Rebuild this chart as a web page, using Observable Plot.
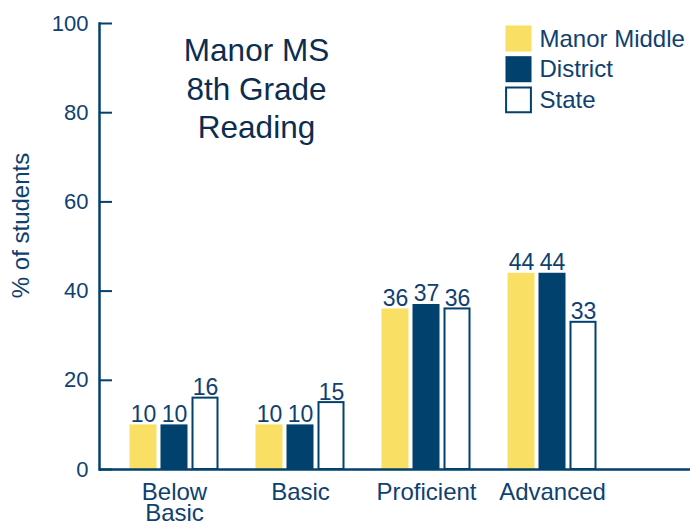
<!DOCTYPE html>
<html><head><meta charset="utf-8">
<script src="https://cdn.jsdelivr.net/npm/d3@7"></script>
<script src="https://cdn.jsdelivr.net/npm/@observablehq/plot@0.6"></script>
<style>body{margin:0;background:#fff}</style>
</head><body><div id="chart"></div>
<script>
const categories = ["Below Basic", "Basic", "Proficient", "Advanced"];
const series = ["Manor Middle", "District", "State"];
const manorMiddle = [10, 10, 36, 44];
const district = [10, 10, 37, 44];
const state = [16, 15, 36, 33];
const yTicks = [0, 20, 40, 60, 80, 100];
const titleLines = ["Manor MS", "8th Grade", "Reading"];
const yLabel = "% of students";

const NAVY = "#00416e", YELLOW = "#f9df63", TEXT = "#0f4170", TITLE = "#0b2d50";
const values = [manorMiddle, district, state];
const data = series.flatMap((s, si) => categories.map((c, ci) => ({series: s, si, category: c, value: values[si][ci]})));
const offsets = [-31, 0, 31];
const fills = [YELLOW, NAVY, "white"];

const marks = [];
series.forEach((s, si) => {
  const d = data.filter(r => r.si === si);
  const outlined = si === 2;
  const inset = outlined ? 31.5 : 30.5;
  marks.push(Plot.barY(d, {x: "category", y: "value", dx: offsets[si], insetLeft: inset, insetRight: inset,
    fill: fills[si], ...(outlined ? {stroke: NAVY, strokeWidth: 2} : {})}));
  marks.push(Plot.text(d, {x: "category", y: "value", dx: offsets[si], text: r => String(r.value),
    lineAnchor: "bottom", dy: -3, fontSize: 23, fill: TEXT}));
  marks.push(Plot.dot([s], {frameAnchor: "top-left", dx: 419, dy: 15 + si * 30.7, symbol: "square",
    r: outlined ? 14 : 14.7, fill: fills[si], ...(outlined ? {stroke: NAVY, strokeWidth: 2} : {})}));
  marks.push(Plot.text([s], {frameAnchor: "top-left", dx: 440, dy: 15.5 + si * 30.7, text: t => t,
    textAnchor: "start", lineAnchor: "middle", fontSize: 24, fill: TEXT}));
});

const chart = Plot.plot({
  width: 691, height: 522,
  marginLeft: 99, marginRight: 1, marginTop: 23, marginBottom: 53,
  style: {fontFamily: "'Liberation Sans', Arial, sans-serif", fontSize: "22px", color: TEXT, background: "white"},
  x: {domain: categories, range: [111, 615], paddingInner: 0.3, paddingOuter: 0.15},
  y: {domain: [0, 100]},
  marks: [
    ...marks,
    Plot.axisY(yTicks, {tickSize: -13, tickPadding: 24, fontSize: 22, stroke: NAVY, strokeWidth: 2, fill: TEXT, label: null}),
    Plot.axisX({tickSize: 0, tickPadding: 15, fontSize: 24, fill: TEXT, lineHeight: 0.9, label: null,
      tickFormat: d => d === "Below Basic" ? "Below\nBasic" : d}),
    Plot.ruleY([0], {stroke: NAVY, strokeWidth: 2.5}),
    Plot.frame({anchor: "left", stroke: NAVY, strokeWidth: 2.5}),
    Plot.text([titleLines.join("\n")], {frameAnchor: "top-left", dx: 157, dy: 10, lineAnchor: "top",
      textAnchor: "middle", fontSize: 31.5, lineHeight: 1.23, fill: TITLE}),
    Plot.text([yLabel], {frameAnchor: "left", rotate: -90, dx: -78, dy: -21, fontSize: 24, fill: TEXT,
      textAnchor: "middle", lineAnchor: "middle"})
  ]
});
document.getElementById("chart").appendChild(chart);
</script></body></html>
